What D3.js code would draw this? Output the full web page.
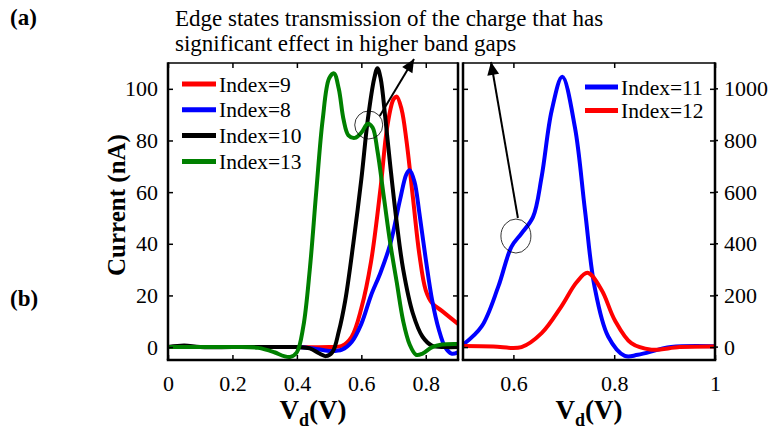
<!DOCTYPE html>
<html>
<head>
<meta charset="utf-8">
<script src="https://cdn.jsdelivr.net/npm/d3@7"></script>
<style>
  html, body { margin: 0; padding: 0; background: #fff; }
  svg { display: block; font-family: "Liberation Serif", "Times New Roman", serif; }
</style>
</head>
<body>
<svg id="chart" width="784" height="430"></svg>
<script>
// ---- Data: drain voltage (V) vs current ----
// Left panel (nA)
const index9 = [[0,0],[0.1,0],[0.2,0],[0.3,0],[0.4,0],[0.5,0],[0.54,0.5],[0.57,4],[0.6,15],[0.63,33],[0.66,62],[0.68,85],[0.7,96],[0.71,97],[0.725,92],[0.74,80],[0.76,58],[0.78,36],[0.8,22],[0.82,17],[0.85,14],[0.9,9]];
const index8 = [[0,0],[0.1,0],[0.2,0],[0.3,0],[0.4,0],[0.45,-0.5],[0.5,-1.5],[0.54,-1],[0.57,2],[0.6,9],[0.63,20],[0.66,29],[0.69,40],[0.72,57],[0.74,67],[0.75,68.5],[0.765,64],[0.78,52],[0.8,34],[0.82,18],[0.84,7],[0.86,0],[0.88,-2.5],[0.9,-2]];
const index10 = [[0,0],[0.05,0.6],[0.1,0],[0.2,0],[0.3,0],[0.4,0],[0.44,-0.5],[0.47,-2.5],[0.49,-3.5],[0.51,-2],[0.53,6],[0.55,18],[0.575,40],[0.6,65],[0.62,88],[0.64,104],[0.65,108],[0.66,104],[0.675,88],[0.69,70],[0.71,48],[0.73,30],[0.76,13],[0.79,4],[0.82,0.5],[0.86,0],[0.9,0]];
const index13 = [[0,0],[0.1,0],[0.2,0],[0.28,-0.3],[0.33,-2],[0.36,-3.5],[0.38,-3.8],[0.4,-2],[0.42,8],[0.44,30],[0.46,60],[0.48,88],[0.5,104],[0.515,106],[0.53,100],[0.545,88],[0.56,82],[0.58,81],[0.6,83],[0.62,86.5],[0.635,85],[0.65,76],[0.67,58],[0.69,40],[0.71,25],[0.73,10],[0.75,1],[0.77,-3],[0.79,-2.5],[0.82,0],[0.85,1],[0.9,1.2]];
// Right panel (nA)
const index11 = [[0.5,9],[0.537,80],[0.57,234],[0.596,388],[0.616,440],[0.639,504],[0.656,659],[0.676,916],[0.697,1047],[0.722,852],[0.742,530],[0.761,234],[0.788,41],[0.821,-34],[0.847,-30],[0.913,0],[1,3]];
const index12 = [[0.5,4],[0.56,2],[0.616,0],[0.656,54],[0.695,157],[0.725,250],[0.747,288],[0.775,221],[0.801,105],[0.834,15],[0.874,-10],[0.93,0],[1,2]];

const leftSeries = [
  { name: "Index=9",  color: "#ff0000", data: index9 },
  { name: "Index=8",  color: "#0000ff", data: index8 },
  { name: "Index=10", color: "#000000", data: index10 },
  { name: "Index=13", color: "#008000", data: index13 }
];
const rightSeries = [
  { name: "Index=11", color: "#0000ff", data: index11 },
  { name: "Index=12", color: "#ff0000", data: index12 }
];

const leftXTicks = [0, 0.2, 0.4, 0.6, 0.8];
const rightXTicks = [0.6, 0.8, 1];
const leftYTicks = [0, 20, 40, 60, 80, 100];
const rightYTicks = [0, 200, 400, 600, 800, 1000];

// ---- Layout ----
const svg = d3.select("#chart");
const plotTop = 63, plotBottom = 360;
const L = { x0: 168, x1: 458 };
const R = { x0: 463, x1: 715 };

const xL = d3.scaleLinear().domain([0, 0.9]).range([L.x0, L.x1]);
const yL = d3.scaleLinear().domain([-5, 110]).range([plotBottom, plotTop]);
const xR = d3.scaleLinear().domain([0.5, 1]).range([R.x0, R.x1]);
const yR = d3.scaleLinear().domain([-50, 1100]).range([plotBottom, plotTop]);

const fontSize = 22;
const tickLen = 5;

const defs = svg.append("defs");
defs.append("clipPath").attr("id", "clipL").append("rect")
  .attr("x", L.x0).attr("y", plotTop).attr("width", L.x1 - L.x0).attr("height", plotBottom - plotTop);
defs.append("clipPath").attr("id", "clipR").append("rect")
  .attr("x", R.x0).attr("y", plotTop).attr("width", R.x1 - R.x0).attr("height", plotBottom - plotTop);

function drawCurves(series, x, y, clip) {
  const line = d3.line().x(d => x(d[0])).y(d => y(d[1])).curve(d3.curveCatmullRom.alpha(0.5));
  svg.append("g").attr("clip-path", `url(#${clip})`)
    .selectAll("path").data(series).join("path")
    .attr("d", d => line(d.data))
    .attr("fill", "none")
    .attr("stroke", d => d.color)
    .attr("stroke-width", 4)
    .attr("stroke-linejoin", "round");
}

function styleAxis(g) {
  g.select(".domain").remove();
  g.attr("font-family", null);
  g.selectAll(".tick line").attr("stroke", "#000").attr("stroke-width", 1.5);
  g.selectAll(".tick text").attr("font-size", fontSize).attr("fill", "#000");
}

function drawFrame(p, x, y, xTicks, yTicks, yLabelsLeft) {
  // bottom axis with labels
  svg.append("g").attr("transform", `translate(0,${plotBottom})`)
    .call(d3.axisBottom(x).tickValues(xTicks).tickSizeInner(-tickLen).tickSizeOuter(0).tickPadding(15)
      .tickFormat(d3.format("~g")))
    .call(styleAxis);
  // top mirrored ticks
  svg.append("g").attr("transform", `translate(0,${plotTop})`)
    .call(d3.axisTop(x).tickValues(xTicks).tickSizeInner(-tickLen).tickSizeOuter(0).tickFormat(""))
    .call(styleAxis);
  // left side
  svg.append("g").attr("transform", `translate(${p.x0},0)`)
    .call(d3.axisLeft(y).tickValues(yTicks).tickSizeInner(-tickLen).tickSizeOuter(0)
      .tickPadding(10).tickFormat(yLabelsLeft ? d3.format("d") : ""))
    .call(styleAxis);
  // right side
  svg.append("g").attr("transform", `translate(${p.x1},0)`)
    .call(d3.axisRight(y).tickValues(yTicks).tickSizeInner(-tickLen).tickSizeOuter(0)
      .tickPadding(9).tickFormat(yLabelsLeft ? "" : d3.format("d")))
    .call(styleAxis);
  // outward stubs on the right panel's outer spine
  if (!yLabelsLeft) {
    svg.append("g").selectAll("line").data(yTicks).join("line")
      .attr("x1", p.x1).attr("x2", p.x1 + 3)
      .attr("y1", d => y(d)).attr("y2", d => y(d))
      .attr("stroke", "#000").attr("stroke-width", 1.5);
  }
  // spines
  const f = svg.append("g").attr("stroke", "#000").attr("fill", "none");
  f.append("line").attr("x1", p.x0).attr("x2", p.x1).attr("y1", plotTop).attr("y2", plotTop).attr("stroke-width", 1.5);
  f.append("line").attr("x1", p.x0 - 1.25).attr("x2", p.x1 + 1.25).attr("y1", plotBottom).attr("y2", plotBottom).attr("stroke-width", 2.5);
  f.append("line").attr("x1", p.x0).attr("x2", p.x0).attr("y1", plotTop - 0.75).attr("y2", plotBottom).attr("stroke-width", 2.5);
  f.append("line").attr("x1", p.x1).attr("x2", p.x1).attr("y1", plotTop - 0.75).attr("y2", plotBottom).attr("stroke-width", 2.5);
}

drawCurves(leftSeries, xL, yL, "clipL");
drawCurves(rightSeries, xR, yR, "clipR");
drawFrame(L, xL, yL, leftXTicks, leftYTicks, true);
drawFrame(R, xR, yR, rightXTicks, rightYTicks, false);

// ---- Legends ----
function legend(series, lx0, lx1, tx, y0, step) {
  const g = svg.append("g");
  series.forEach((s, i) => {
    const yy = y0 + i * step;
    g.append("line").attr("x1", lx0).attr("x2", lx1).attr("y1", yy).attr("y2", yy)
      .attr("stroke", s.color).attr("stroke-width", 5);
    g.append("text").attr("x", tx).attr("y", yy).attr("dy", "0.35em")
      .attr("font-size", 21.5).text(s.name);
  });
}
legend(leftSeries, 182, 216, 219, 84, 25.8);
legend(rightSeries, 585, 618, 621, 87, 23.5);

// ---- Annotation: edge-state shoulders ----
const shoulderL = [0.623, 86];   // green shoulder, left panel
const shoulderR = [0.605, 430];  // blue shoulder, right panel
const ann = svg.append("g").attr("fill", "none").attr("stroke", "#000");
ann.append("ellipse").attr("cx", xL(shoulderL[0])).attr("cy", yL(shoulderL[1]))
  .attr("rx", 14).attr("ry", 14).attr("stroke-width", 0.8);
ann.append("ellipse").attr("cx", xR(shoulderR[0])).attr("cy", yR(shoulderR[1]))
  .attr("rx", 15).attr("ry", 17).attr("stroke-width", 0.8);

const arrowHead = svg.append("g");
function arrow(x1, y1, x2, y2) {
  svg.append("line").attr("x1", x1).attr("y1", y1).attr("x2", x2).attr("y2", y2)
    .attr("stroke", "#000").attr("stroke-width", 2);
  const a = Math.atan2(y2 - y1, x2 - x1), len = 13, w = 6;
  const bx = x2 - len * Math.cos(a), by = y2 - len * Math.sin(a);
  arrowHead.append("path")
    .attr("d", `M${x2},${y2} L${bx + w * Math.sin(a)},${by - w * Math.cos(a)} L${bx - w * Math.sin(a)},${by + w * Math.cos(a)} Z`)
    .attr("fill", "#000");
}
arrow(xL(shoulderL[0]) + 11, yL(shoulderL[1]) - 9, 414, 59);
arrow(xR(shoulderR[0]) + 2, yR(shoulderR[1]) - 18, 491, 62);

// ---- Text ----
svg.append("text").attr("x", 175).attr("y", 26).attr("font-size", 23)
  .text("Edge states transmission of the charge that has");
svg.append("text").attr("x", 175).attr("y", 51).attr("font-size", 23)
  .text("significant effect in higher band gaps");

svg.append("text").attr("x", 10).attr("y", 25).attr("font-size", 23).attr("font-weight", "bold").text("(a)");
svg.append("text").attr("x", 10).attr("y", 306).attr("font-size", 23).attr("font-weight", "bold").text("(b)");

svg.append("text").attr("transform", "translate(125,205) rotate(-90)")
  .attr("text-anchor", "middle").attr("font-size", 25).attr("font-weight", "bold")
  .text("Current (nA)");

function vdLabel(cx) {
  const t = svg.append("text").attr("x", cx).attr("y", 419).attr("text-anchor", "middle")
    .attr("font-size", 27).attr("font-weight", "bold");
  t.append("tspan").text("V");
  t.append("tspan").attr("font-size", 18).attr("dy", 7).text("d");
  t.append("tspan").attr("dy", -7).text("(V)");
}
vdLabel(xL(0.45));
vdLabel(xR(0.75));
</script>
</body>
</html>
